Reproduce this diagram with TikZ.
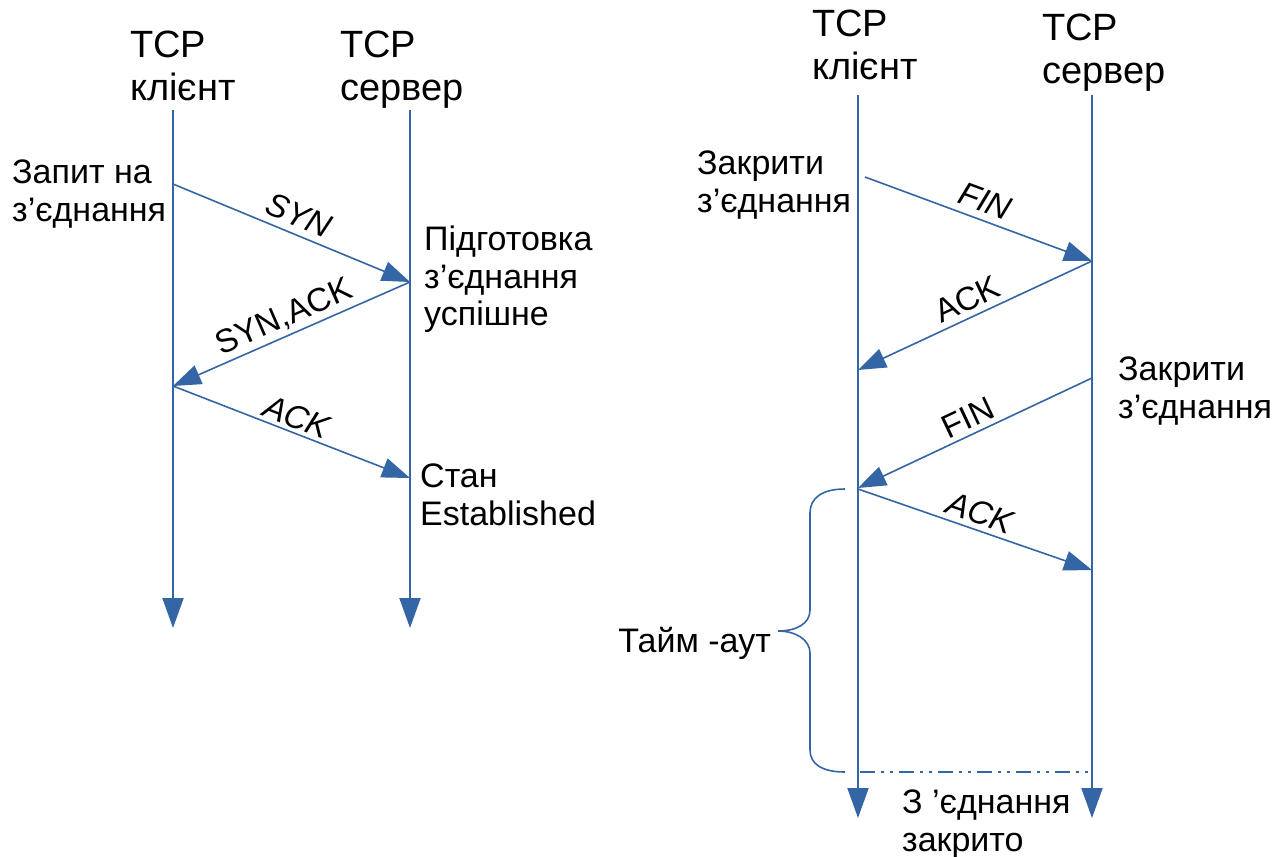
\documentclass[tikz,border=0pt]{standalone}
\usepackage{fontspec}
\setmainfont{Liberation Sans}
\usetikzlibrary{arrows.meta}
\definecolor{lineblue}{HTML}{3465A4}
\begin{document}
\begin{tikzpicture}[x=1pt,y=-1pt,
  life/.style={draw=lineblue, line width=2pt, -{Triangle[length=30pt,width=21pt]}},
  msg/.style={draw=lineblue, line width=1.6pt, -{Triangle[length=28pt,width=20pt]}},
  brace/.style={draw=lineblue, line width=1.6pt},
  closeline/.style={draw=lineblue, line width=1.6pt, dash pattern=on 15pt off 6pt on 3pt off 6pt on 3pt off 6pt},
  title/.style={font=\fontsize{38}{42.5}\selectfont, align=left, anchor=north west, inner sep=0pt},
  lbl/.style={font=\fontsize{34}{37.5}\selectfont, align=left, anchor=north west, inner sep=0pt},
  mlbl/.style={font=\fontsize{33}{37.5}\selectfont, sloped, anchor=south, text depth=0pt, midway},
]
\useasboundingbox (0,0) rectangle (1283,857);

% ---------- left diagram ----------
\node[title] (tl1) at (130,31) {TCP\\клієнт};
\node[title] (tl2) at (340,31) {TCP\\сервер};
\coordinate (lc-top) at (173,110);
\coordinate (lc-bot) at (173,628);
\coordinate (ls-top) at (410,110);
\coordinate (ls-bot) at (410,628);
\draw[life] (lc-top) -- (lc-bot);
\draw[life] (ls-top) -- (ls-bot);

\coordinate (c1) at (173,184);
\coordinate (s1) at (410,282);
\coordinate (c2) at (173,386);
\coordinate (s2) at (410,478);
\draw[msg] (c1) -- node[mlbl, inner sep=7pt] (syn) {\textit{SYN}} (s1);
\draw[msg] (s1) -- node[mlbl, inner sep=8pt] (synack) {SYN,ACK} (c2);
\draw[msg] (c2) -- node[mlbl, inner sep=4pt] (ack1) {\textit{ACK}} (s2);

\node[lbl] (req) at (12,160) {Запит на\\з’єднання};
\node[lbl] (prep) at (424,226) {Підготовка\\з’єднання\\успішне};
\node[lbl] (est) at (420,464) {Стан\\Established};

% ---------- right diagram ----------
\node[title] (tr1) at (812,10) {TCP\\клієнт};
\node[title] (tr2) at (1042,14) {TCP\\сервер};
\coordinate (rc-top) at (858,95);
\coordinate (rc-bot) at (858,818);
\coordinate (rs-top) at (1092,95);
\coordinate (rs-bot) at (1092,818);
\draw[life] (rc-top) -- (rc-bot);
\draw[life] (rs-top) -- (rs-bot);

\coordinate (rc1) at (865,177);
\coordinate (rs1) at (1092,261);
\coordinate (rc2) at (858,370);
\coordinate (rs2) at (1092,378);
\coordinate (rc3) at (858,488);
\coordinate (rc4) at (858,489);
\coordinate (rs3) at (1092,570);
\draw[msg] (rc1) -- node[mlbl, inner sep=7pt] (fin1) {\textit{FIN}} (rs1);
\draw[msg] (rs1) -- node[mlbl, inner sep=6pt] (ack2) {ACK} (rc2);
\draw[msg] (rs2) -- node[mlbl, inner sep=5pt] (fin2) {FIN} (rc3);
\draw[msg] (rc4) -- node[mlbl, inner sep=5pt] (ack3) {\textit{ACK}} (rs3);

\node[lbl] (close1) at (697,151) {Закрити\\з’єднання};
\node[lbl] (close2) at (1118,357) {Закрити\\з’єднання};
\node[lbl] (closed) at (902,790) {З ’єднання\\закрито};

% brace and timeout
\draw[brace] (845,489) .. controls (822,489) and (810,498) .. (810,513)
  -- (810,610) .. controls (810,624) and (796,631) .. (778,631)
  .. controls (796,631) and (810,640) .. (810,653)
  -- (810,750) .. controls (810,764) and (822,772) .. (845,772);
\node[lbl, anchor=north east] (tout) at (771,627) {Тайм -аут};

\coordinate (d1) at (860,772);
\coordinate (d2) at (1088,772);
\draw[closeline] (d1) -- (d2);
\end{tikzpicture}
\end{document}
